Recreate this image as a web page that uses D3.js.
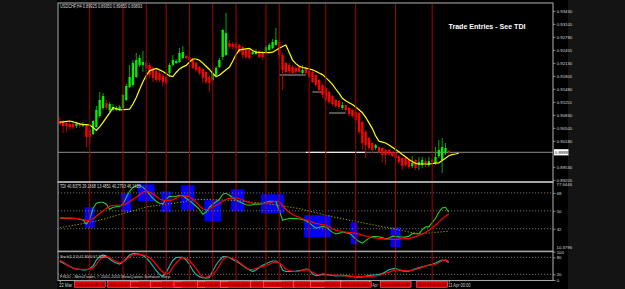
<!DOCTYPE html>
<html><head><meta charset="utf-8">
<script src="https://cdn.jsdelivr.net/npm/d3@7"></script>
<style>
html,body{margin:0;padding:0;background:#141414;}
svg{display:block;}
</style></head><body>
<svg id="c" width="625" height="289"></svg>
<script>
// ---------------- DATA ----------------
const symbol = "USDCHF,H4";
const startTime = new Date(2011, 2, 22, 12, 0); // first bar
const barHours = 4;

const open = [
0.90675,0.9065,0.90625,0.9060,0.9060,0.9055,0.9060,0.9055,0.90575,0.9045,
0.9035,0.90525,0.9080,0.9100,0.91125,0.9095,0.9095,0.9095,0.90975,0.9100,
0.9120,0.91525,0.91575,0.91775,0.92075,0.92075,0.92125,0.92075,0.9200,0.91925,
0.91875,0.9180,0.91775,0.91875,0.92075,0.92125,0.9215,0.9225,0.9230,0.92275,
0.9220,0.92125,0.92025,0.91975,0.9190,0.91775,0.9170,0.91825,0.92025,0.92275,
0.92325,0.92625,0.9260,0.9260,0.92575,0.92525,0.9245,0.9245,0.9235,0.9235,
0.92425,0.9240,0.9240,0.9245,0.9250,0.92575,0.9265,0.92325,0.92125,0.92075,
0.92025,0.9200,0.92025,0.91875,0.91975,0.91925,0.9190,0.91825,0.9170,0.91575,
0.9150,0.9140,0.9130,0.9120,0.91175,0.9100,0.91075,0.9100,0.9095,0.9090,
0.90875,0.9065,0.9040,0.9025,0.90125,0.9000,0.90025,0.9000,0.8995,0.8995,
0.8990,0.89875,0.8980,0.8975,0.8975,0.8970,0.8955,0.8970,0.89575,0.89575,
0.89675,0.89575,0.8970,0.89625,0.8980,0.8970,0.89875,0.89925];
const close = [
0.9060,0.9055,0.9055,0.90525,0.90525,0.9060,0.9055,0.9060,0.90275,0.90275,
0.90675,0.9095,0.9120,0.9130,0.9100,0.9110,0.91025,0.9100,0.91025,0.91325,
0.9155,0.91775,0.92125,0.9220,0.9225,0.9215,0.9200,0.91825,0.9175,0.9170,
0.9170,0.9165,0.91625,0.92075,0.9220,0.92175,0.92375,0.9240,0.9225,0.9220,
0.9200,0.9195,0.91875,0.9175,0.9165,0.91625,0.91875,0.9200,0.9220,0.9295,
0.92875,0.92525,0.92525,0.9250,0.9240,0.92325,0.92275,0.9225,0.9240,0.92425,
0.92275,0.92275,0.92525,0.92575,0.9265,0.9270,0.92325,0.9195,0.9190,0.91925,
0.91875,0.9190,0.9190,0.9195,0.91875,0.91775,0.9165,0.91575,0.9145,0.91325,
0.9120,0.9115,0.9110,0.9105,0.91025,0.91075,0.9095,0.9085,0.9080,0.9070,
0.9040,0.90125,0.90075,0.9000,0.8995,0.90075,0.8990,0.89825,0.89825,0.8985,
0.8980,0.8975,0.8965,0.8955,0.89575,0.89525,0.89625,0.8950,0.8965,0.8970,
0.89625,0.89675,0.8965,0.89775,0.8995,0.90025,0.9000,0.89893];
const high = [
0.90775,0.9070,0.90675,0.9065,0.90625,0.9065,0.90625,0.9065,0.9060,0.9050,
0.9070,0.9105,0.9140,0.91375,0.9120,0.9115,0.9110,0.9105,0.91075,0.9135,
0.9160,0.92075,0.9220,0.92375,0.92325,0.92425,0.92175,0.92125,0.9205,0.91975,
0.91925,0.9185,0.91825,0.92125,0.92325,0.92225,0.9250,0.9255,0.92325,0.9230,
0.92225,0.9215,0.9205,0.9200,0.91925,0.91825,0.9190,0.9205,0.9225,0.92975,
0.93375,0.9270,0.9265,0.9265,0.9260,0.9255,0.92475,0.92475,0.9245,0.92475,
0.9245,0.92425,0.92575,0.92625,0.92725,0.9300,0.9270,0.92375,0.9215,0.92125,
0.92075,0.9205,0.92075,0.92075,0.92025,0.9195,0.91925,0.9185,0.91725,0.9160,
0.91525,0.9145,0.91325,0.91225,0.9120,0.9115,0.9110,0.91025,0.90975,0.90925,
0.9090,0.90675,0.9045,0.90275,0.9015,0.9010,0.9005,0.90025,0.89975,0.89975,
0.89925,0.8990,0.89825,0.89775,0.89775,0.89725,0.8980,0.89725,0.89775,0.89775,
0.8975,0.89775,0.8975,0.90025,0.9020,0.9025,0.90125,0.8995];
const low = [
0.90575,0.90375,0.9040,0.9045,0.90475,0.9050,0.9050,0.90525,0.90025,0.90125,
0.90325,0.9050,0.9075,0.9095,0.9095,0.9090,0.90925,0.90925,0.90925,0.9095,
0.91175,0.9150,0.91525,0.9175,0.92025,0.9190,0.9195,0.9175,0.9165,0.9165,
0.9165,0.91525,0.91575,0.91825,0.9205,0.9210,0.92125,0.92225,0.92225,0.9215,
0.91975,0.9190,0.91825,0.91625,0.9160,0.9140,0.91675,0.9180,0.9200,0.9220,
0.9230,0.92475,0.92475,0.9245,0.92375,0.9225,0.92225,0.9220,0.92325,0.92325,
0.9225,0.9220,0.92375,0.92425,0.92475,0.9255,0.9225,0.9145,0.9185,0.9185,
0.9185,0.9185,0.91875,0.9185,0.91825,0.9175,0.91625,0.91525,0.9140,0.9125,
0.9115,0.9110,0.9105,0.9100,0.90975,0.9095,0.9090,0.9080,0.9075,0.9065,
0.9035,0.8995,0.8975,0.8995,0.89875,0.8995,0.89875,0.8965,0.89575,0.8980,
0.89775,0.8970,0.8960,0.8945,0.89525,0.89475,0.8950,0.8945,0.8945,0.8950,
0.89525,0.89525,0.89575,0.89575,0.8975,0.89375,0.89825,0.8985];

// displaced moving average (yellow), one value per plotted bar (runs 3 bars past the last candle)
const movingAverage = [
0.90645,0.90655,0.90665,0.90675,0.90655,0.90628,0.90603,0.90593,0.90585,0.90575,
0.90515,0.90438,0.9053,0.9064,0.90758,0.9088,0.91008,0.90988,0.90955,0.90958,
0.90965,0.90973,0.911,0.91265,0.91465,0.91655,0.91813,0.9193,0.9196,0.91988,
0.91953,0.91913,0.9186,0.91803,0.91785,0.91888,0.91978,0.92028,0.92065,0.9215,
0.92225,0.92225,0.92195,0.92123,0.92045,0.91963,0.91863,0.91788,0.91818,0.91888,
0.91958,0.92018,0.9217,0.92335,0.92453,0.92465,0.92478,0.9249,0.9244,0.92393,
0.9239,0.92388,0.92385,0.92383,0.92395,0.92443,0.92493,0.92538,0.92575,0.92385,
0.92198,0.9211,0.92045,0.92013,0.91995,0.91975,0.91955,0.91918,0.91875,0.91835,
0.9176,0.91678,0.91593,0.91475,0.91365,0.91243,0.9118,0.91133,0.91088,0.91025,
0.90958,0.90883,0.90768,0.90628,0.90485,0.90303,0.9017,0.90148,0.90125,0.90075,
0.9002,0.89965,0.89908,0.8984,0.8978,0.89715,0.89663,0.89613,0.896,0.896,
0.896,0.896,0.89608,0.8962,0.8963,0.89685,0.89745,0.89808,0.89835,0.8985,
0.89868];

// TDI
const tdiPrice = [
42.8,42.7,42.6,42.5,42.4,42.3,41.6,40.6,36.6,41.6,
52.6,57.6,58.6,58.6,56.6,51.6,53.6,54.1,54.6,56.6,
63.6,69.6,73.6,75.1,75.6,73.6,70.6,66.6,62.6,59.6,
57.6,57.1,61.6,64.6,64.1,64.6,65.6,65.1,62.6,60.1,
57.6,54.6,51.6,46.6,48.6,53.6,56.6,59.1,61.6,66.6,
67.6,65.6,63.1,61.1,59.1,57.6,56.1,55.6,56.1,56.6,
56.6,57.1,58.6,59.6,59.6,59.1,50.6,40.6,41.6,42.3,
42.3,42.3,41.8,41.3,40.1,38.1,35.1,32.6,33.6,34.3,
34.1,31.1,28.6,26.8,27.6,28.9,28.1,27.4,25.1,21.6,
19.1,17.6,20.1,22.6,24.3,24.3,24.0,23.1,21.6,22.6,
24.4,24.2,23.9,23.8,23.6,24.6,27.1,27.0,26.8,31.1,
33.9,33.9,38.1,42.6,48.6,52.9,53.6,48.6];
const tdiSignal = [
42.9,42.8,42.7,42.6,42.5,42.3,41.8,41.1,40.2,40.1,
42.1,44.6,47.3,49.8,52.3,54.6,55.6,55.6,55.6,55.6,
57.1,59.3,61.6,63.6,66.1,68.9,69.8,68.8,67.1,64.6,
61.8,60.8,60.6,60.6,61.0,62.8,64.8,65.3,64.7,64.1,
61.6,58.6,55.1,52.1,51.1,52.1,53.8,55.6,57.3,59.6,
61.6,62.6,63.1,63.1,62.4,61.1,59.1,58.3,57.6,57.3,
57.3,57.3,57.4,58.1,58.9,59.7,59.1,55.6,51.6,48.6,
46.6,44.6,43.6,42.1,40.8,39.8,38.6,37.4,36.8,36.2,
35.6,34.1,31.8,30.6,30.0,29.3,28.7,28.3,27.9,27.4,
26.6,25.6,24.7,24.0,23.4,22.8,22.3,22.1,21.8,21.6,
21.4,21.3,21.6,21.9,22.1,22.3,23.1,24.1,25.3,26.6,
28.6,30.6,33.1,35.6,38.6,42.1,44.6,47.1];
const tdiBase = [
33.0,33.6,34.2,34.8,35.4,36.0,36.6,37.2,37.8,38.4,
39.1,39.8,40.6,41.5,42.5,43.4,44.4,45.3,46.3,47.2,
48.2,49.1,50.1,51.0,52.0,52.9,53.9,54.4,54.8,55.3,
55.7,56.2,56.7,57.1,57.6,58.0,58.5,58.9,59.6,60.3,
61.0,61.3,61.3,61.3,61.3,61.3,61.2,61.1,61.0,60.9,
60.8,60.7,60.6,60.3,59.9,59.6,59.3,59.0,58.6,58.3,
58.0,57.6,57.3,56.8,56.3,55.8,55.3,54.8,54.3,53.8,
53.3,52.8,52.3,51.5,50.7,49.8,49.0,48.2,47.3,46.5,
45.7,44.8,44.0,43.4,42.7,42.1,41.4,40.7,40.1,39.4,
38.8,38.1,37.4,36.8,36.1,35.5,34.8,34.1,33.5,32.8,
32.2,31.5,30.8,30.2,29.5,28.8,28.2,27.6,27.3,27.3,
27.4,27.7,28.0,28.3,28.6,28.9,29.3,29.6];
const tdiRange = [10.3796, 77.6446];
const tdiLevels = [68, 50, 32];
const tdiTitle = "TDI 40.8375 29.1668 13.4851 40.2793 46.1423";

// Stochastic
const stochMain = [
65.4,60.1,53.7,47.7,42.4,38.2,37.1,36.0,35.3,40.6,
49.5,70.7,83.0,88.4,84.8,74.2,65.4,60.1,56.5,63.6,
76.0,88.4,93.7,93.7,90.1,86.6,77.7,65.4,49.5,33.6,
19.4,12.4,26.5,49.5,68.9,79.5,80.2,80.2,70.7,54.8,
33.6,19.4,11.7,8.1,6.4,8.8,31.8,53.0,68.9,83.0,
83.0,78.8,72.4,66.1,59.4,51.2,42.4,36.0,30.0,35.3,
43.8,51.9,57.6,62.9,67.1,67.1,60.1,35.3,30.0,30.0,
30.7,31.8,33.2,35.0,38.9,37.1,21.2,15.2,17.0,20.5,
19.8,18.0,15.9,14.5,15.2,16.3,15.5,14.1,12.4,10.2,
9.9,11.3,13.4,15.9,17.0,17.7,20.1,22.6,29.0,36.0,
39.6,41.0,34.6,32.2,30.7,31.1,35.3,39.9,43.8,46.6,
49.5,52.3,55.5,60.1,65.7,70.7,69.6,61.8];
const stochSignal = [
69.6,63.6,54.8,47.7,42.4,39.6,37.8,37.8,37.8,37.8,
42.4,54.8,72.4,81.3,83.8,79.5,70.7,65.4,61.8,65.4,
73.2,81.3,88.4,91.9,91.2,88.4,84.8,79.5,68.9,54.8,
40.6,28.3,19.4,26.5,45.9,60.1,72.4,79.5,76.7,68.9,
54.8,40.6,23.0,10.6,8.8,14.8,19.4,31.8,51.2,70.7,
81.3,79.5,76.0,70.7,61.8,53.0,44.2,37.1,37.1,41.7,
44.5,48.1,51.2,55.5,61.1,64.0,60.8,51.2,38.2,33.6,
31.1,29.7,31.1,33.6,36.4,33.6,27.2,21.2,17.7,17.7,
17.7,17.7,17.7,17.0,16.3,15.5,14.5,13.8,13.1,12.4,
12.0,12.0,12.4,13.1,13.8,14.5,15.9,19.4,23.7,27.6,
31.8,36.0,36.8,34.3,32.5,32.2,34.6,37.8,41.3,45.2,
48.8,52.3,53.0,54.8,61.8,67.9,70.7,67.1];
const stochLevels = [80, 20];
const stochTicks = [100, 80, 20, 0];
const stochName = "Stoch(5,3,3)";

// objects
const vlineBars = [9, 19, 26, 32, 39, 46, 53, 62, 66, 75, 80, 89, 101, 112];
const entryBoxes = [ // [fromBar, toBar, topValue, bottomValue] in TDI units
  [8,10,53.6,32.6],[19,21,67.6,48.6],[24,28,76.6,59.6],[31,33,69.6,48.6],
  [37,40,75.6,50.6],[44,48,60.6,39.6],[52,55,71.6,49.6],[61,67,66.6,47.6],
  [74,81,45.6,23.6],[88,89,38.6,16.6],[100,102,33.6,13.6]];
const grayLevels = [[66,74,0.91825],[76,79,0.9140],[81,86,0.90875]]; // [fromBar,toBar,price]
const whiteLevel = [74,92,0.89893];
const priceTicks = [0.93430,0.93105,0.92780,0.92455,0.92130,0.91805,0.91480,0.91155,
  0.90830,0.90505,0.90180,0.89855,0.89530,0.89205];
const timeLabelBars = [0, 93, 117];
const noteText = "Trade Entries - See TDI";
const copyright = "FXDD - MetaTrader, \u00a9 2001-2010 MetaQuotes Software Corp.";

// ---------------- DRAW ----------------
const FONT = '"Liberation Sans", Arial, sans-serif';
const svg = d3.select('#c');
const L = 58, R = 553;
const last = close.length - 1;

svg.append('rect').attr('x',0).attr('y',0).attr('width',625).attr('height',289).attr('fill','#141414');
svg.append('rect').attr('x',57).attr('y',0).attr('width',511).attr('height',289).attr('fill','#000');

const xs = d3.scaleLinear().domain([0, last]).range([59.8, 448.8]);
const halfBar = (xs(1) - xs(0)) / 2;
const yP = d3.scaleLinear().domain([0.9370, 0.8920]).range([0, 180]);
const yT = d3.scaleLinear().domain(tdiRange).range([250.3, 183.3]);
const yS = d3.scaleLinear().domain([0, 100]).range([280, 251.7]);

// squeeze a text horizontally to a given width (real geometry, so its box is honest)
function fitWidth(node, x, y, width){
  const natural = node.getComputedTextLength();
  const sx = natural > 0 ? Math.min(1.3, width / natural) : 1;
  d3.select(node).attr('x', 0).attr('y', 0).attr('dy', null)
    .attr('transform', `translate(${x},${y}) scale(${sx},1)`);
}

const defs = svg.append('defs');
function clip(id, y0, y1){
  defs.append('clipPath').attr('id', id).append('rect')
    .attr('x', L).attr('y', y0).attr('width', R - L).attr('height', y1 - y0);
  return svg.append('g').attr('clip-path', `url(#${id})`);
}
const gMain = clip('cm', 3.5, 181);
const gTdi = clip('ct', 183, 250.5);
const gSto = clip('cs', 252, 280);

// vertical lines (all panels)
svg.append('g').selectAll('line').data(vlineBars).join('line')
  .attr('x1', b => xs(b)).attr('x2', b => xs(b)).attr('y1', 3.5).attr('y2', 280.5)
  .attr('stroke', '#a80000').attr('stroke-width', 1);

// ---- main panel
gMain.append('line').attr('x1', L).attr('x2', R)
  .attr('y1', yP(close[last])).attr('y2', yP(close[last]))
  .attr('stroke', '#707070').attr('stroke-width', 1.3);
gMain.selectAll('line.lvl').data(grayLevels).join('line').attr('class','lvl')
  .attr('x1', d => xs(d[0])).attr('x2', d => xs(d[1]))
  .attr('y1', d => yP(d[2])).attr('y2', d => yP(d[2]))
  .attr('stroke', '#a8a8a8').attr('stroke-width', 1);
gMain.append('line').attr('x1', xs(whiteLevel[0])).attr('x2', xs(whiteLevel[1]))
  .attr('y1', yP(whiteLevel[2])).attr('y2', yP(whiteLevel[2]))
  .attr('stroke', '#e8e8e8').attr('stroke-width', 1.2);

const bars = d3.range(open.length);
const up = i => close[i] >= open[i];
gMain.selectAll('line.wick').data(bars).join('line').attr('class','wick')
  .attr('x1', i => xs(i)).attr('x2', i => xs(i))
  .attr('y1', i => yP(high[i])).attr('y2', i => yP(low[i]))
  .attr('stroke', i => up(i) ? '#00a800' : '#b80000').attr('stroke-width', 1);
gMain.selectAll('rect.body').data(bars).join('rect').attr('class','body')
  .attr('x', i => xs(i) - 1.15).attr('width', 2.3)
  .attr('y', i => yP(Math.max(open[i], close[i])))
  .attr('height', i => Math.max(0.9, Math.abs(yP(open[i]) - yP(close[i]))))
  .attr('fill', i => up(i) ? '#00f000' : '#ff0000');

gMain.append('path').datum(movingAverage)
  .attr('d', d3.line().x((d, i) => xs(i)).y(d => yP(d)))
  .attr('fill', 'none').attr('stroke', '#ffff00').attr('stroke-width', 1.2);

const f5 = d3.format('.5f');
svg.append('text').attr('font-family', FONT).attr('font-size', 4.6).attr('fill', '#d8d8d8')
  .text(`${symbol} ${f5(open[last])} ${f5(high[last])} ${f5(low[last])} ${f5(close[last])}`)
  .each(function(){ fitWidth(this, 60, 8, 82); });
svg.append('text').attr('font-family', FONT).attr('font-size', 7.2).attr('font-weight', 'bold').attr('fill', '#fff')
  .text(noteText).each(function(){ fitWidth(this, 448.5, 28.6, 77); });

// ---- TDI panel
gTdi.selectAll('rect.box').data(entryBoxes).join('rect').attr('class','box')
  .attr('x', d => xs(d[0]) - halfBar).attr('width', d => xs(d[1]) - xs(d[0]) + 2 * halfBar)
  .attr('y', d => yT(d[2])).attr('height', d => yT(d[3]) - yT(d[2]))
  .attr('fill', '#0000ff');
gTdi.selectAll('line.lv').data(tdiLevels).join('line').attr('class','lv')
  .attr('x1', L).attr('x2', R).attr('y1', d => yT(d)).attr('y2', d => yT(d))
  .attr('stroke', '#8a8a8a').attr('stroke-width', 0.8).attr('stroke-dasharray', '1.2,1.8');
const tLine = d3.line().x((d, i) => xs(i)).y(d => yT(d));
gTdi.append('path').datum(tdiBase).attr('d', tLine).attr('fill', 'none')
  .attr('stroke', '#a0a000').attr('stroke-width', 1).attr('stroke-dasharray', '1.3,1.7');
gTdi.append('path').datum(tdiPrice).attr('d', tLine).attr('fill', 'none')
  .attr('stroke', '#20d020').attr('stroke-width', 1.1);
gTdi.append('path').datum(tdiSignal).attr('d', tLine).attr('fill', 'none')
  .attr('stroke', '#ff0000').attr('stroke-width', 1.2);
svg.append('text').attr('font-family', FONT).attr('font-size', 4.5).attr('fill', '#d8d8d8')
  .text(tdiTitle).each(function(){ fitWidth(this, 60, 188, 81); });

// ---- Stochastic panel
gSto.selectAll('line.lv').data(stochLevels).join('line').attr('class','lv')
  .attr('x1', L).attr('x2', R).attr('y1', d => yS(d)).attr('y2', d => yS(d))
  .attr('stroke', '#8a8a8a').attr('stroke-width', 0.8).attr('stroke-dasharray', '1.2,1.8');
const sLine = d3.line().x((d, i) => xs(i)).y(d => yS(d));
gSto.append('path').datum(stochMain).attr('d', sLine).attr('fill', 'none')
  .attr('stroke', '#20b2aa').attr('stroke-width', 1.2);
gSto.append('path').datum(stochSignal).attr('d', sLine).attr('fill', 'none')
  .attr('stroke', '#ff0000').attr('stroke-width', 1.2);
const f4 = d3.format('.4f');
svg.append('text').attr('font-family', FONT).attr('font-size', 4.4).attr('fill', '#d8d8d8')
  .text(`${stochName} ${f4(stochMain[last])} ${f4(stochSignal[last])}`)
  .each(function(){ fitWidth(this, 60, 257.6, 46); });
svg.append('text').attr('font-family', FONT).attr('font-size', 4.4).attr('fill', '#d8d8d8')
  .text(copyright).each(function(){ fitWidth(this, 60, 278.4, 111); });

// ---- frames
const frame = '#a4a4a4';
svg.append('rect').attr('x', L).attr('y', 3).attr('width', R - L).attr('height', 277.5)
  .attr('fill', 'none').attr('stroke', frame).attr('stroke-width', 1.1);
svg.append('rect').attr('x', L - 0.5).attr('y', 181).attr('width', R - L + 1).attr('height', 2).attr('fill', frame);
svg.append('rect').attr('x', L - 0.5).attr('y', 250.6).attr('width', R - L + 1).attr('height', 1.6).attr('fill', frame);

// ---- axes
function styleAxis(g){
  g.select('.domain').remove();
  g.selectAll('line').attr('stroke', frame).attr('stroke-width', 0.8);
  g.selectAll('text').attr('font-family', FONT).attr('font-size', 4.3).attr('fill', '#d8d8d8');
}
const bidY = yP(close[last]);
const shownTicks = priceTicks.filter(t => Math.abs(yP(t) - bidY) > 5);
svg.append('g').attr('transform', `translate(${R},0)`)
  .call(d3.axisRight(yP).tickValues(shownTicks).tickFormat(f5).tickSize(2.5).tickPadding(1.2))
  .call(styleAxis);
svg.append('rect').attr('x', R + 1).attr('y', bidY - 3.1).attr('width', 14.5).attr('height', 6.2).attr('fill', '#fff');
svg.append('text').attr('x', R + 1.8).attr('y', bidY + 1.6).attr('font-family', FONT)
  .attr('font-size', 4.3).attr('fill', '#000').text(f5(close[last]));

svg.append('g').attr('transform', `translate(${R},0)`)
  .call(d3.axisRight(yT).tickValues(tdiLevels).tickFormat(d3.format('d')).tickSize(2.5).tickPadding(1.2))
  .call(styleAxis);
svg.append('g').selectAll('text').data(tdiRange).join('text')
  .attr('x', R + 3.5).attr('y', (d, i) => i ? 186.3 : 248.8)
  .attr('font-family', FONT).attr('font-size', 4.3).attr('fill', '#d8d8d8').text(d => f4(d));
svg.append('g').attr('transform', `translate(${R},0)`)
  .call(d3.axisRight(yS).tickValues(stochTicks).tickFormat(d3.format('d')).tickSize(2.5).tickPadding(1.2))
  .call(styleAxis);

// ---- time axis
const barTime = i => d3.timeHour.offset(startTime, barHours * i);
const fDay = d3.timeFormat('%-d %b %Y'), fHour = d3.timeFormat('%-d %b %H:%M'), fLine = d3.timeFormat('%Y.%m.%d %H:%M');
const boxW = 31, charW = 1.75, axisCharW = 1.85;
const boxLeft = b => xs(b) - boxW / 2;
const boxSpans = vlineBars.map(b => [boxLeft(b), boxLeft(b) + boxW]);
// visible room of each vertical-line label (later labels cover earlier ones)
const roomOf = (b, k) => k < vlineBars.length - 1 ? Math.min(boxW, boxLeft(vlineBars[k + 1]) - boxLeft(b)) : boxW;

const tAxis = svg.append('g').attr('transform', 'translate(0,280.5)')
  .call(d3.axisBottom(xs).tickValues(timeLabelBars).tickSize(2).tickPadding(1.5)
    .tickFormat(i => i === 0 ? fDay(barTime(i)) : fHour(barTime(i))));
tAxis.select('.domain').remove();
tAxis.selectAll('line').attr('stroke', frame);
// show only the part of each time label that is not covered by the red line labels
tAxis.selectAll('.tick text')
  .attr('text-anchor', 'start')
  .attr('font-family', FONT).attr('font-size', 4.6).attr('fill', '#d0d0d0')
  .each(function(i){
    const full = i === 0 ? fDay(barTime(i)) : fHour(barTime(i));
    const origStart = Math.max(L, xs(i) - 1);
    let start = origStart;
    boxSpans.forEach(([l, r]) => { if (start >= l && start < r) start = r + 0.5; });
    const nextLeft = d3.min(boxSpans.filter(([l]) => l > start).map(([l]) => l)) ?? 625;
    const hidden = Math.ceil((start - origStart) / axisCharW - 0.01);
    const n = Math.max(1, Math.floor((nextLeft - start - 1.2) / axisCharW));
    const shown = full.slice(hidden, hidden + n).replace(/^\s+/, '');
    d3.select(this).text(shown);
    fitWidth(this, start - xs(i), 6.6, Math.min(shown.length * axisCharW, nextLeft - start - 1.2));
  });

const vl = svg.append('g').selectAll('g').data(vlineBars).join('g')
  .attr('transform', b => `translate(${xs(b)},0)`);
vl.append('rect').attr('x', -boxW / 2).attr('y', 281.6).attr('width', boxW).attr('height', 5.8)
  .attr('fill', '#e00000').attr('stroke', '#ffb0b0').attr('stroke-width', 0.4);
vl.append('text').attr('text-anchor', 'start')
  .attr('font-family', FONT).attr('font-size', 4.4).attr('fill', '#3a0000')
  .each(function(b, k){
    const full = fLine(barTime(b));
    const n = Math.max(1, Math.min(full.length, Math.floor((roomOf(b, k) - 2.5) / charW)));
    d3.select(this).text(full.slice(0, n));
    fitWidth(this, -boxW / 2 + 1.5, 286.3, n * charW);
  });
</script>
</body></html>
